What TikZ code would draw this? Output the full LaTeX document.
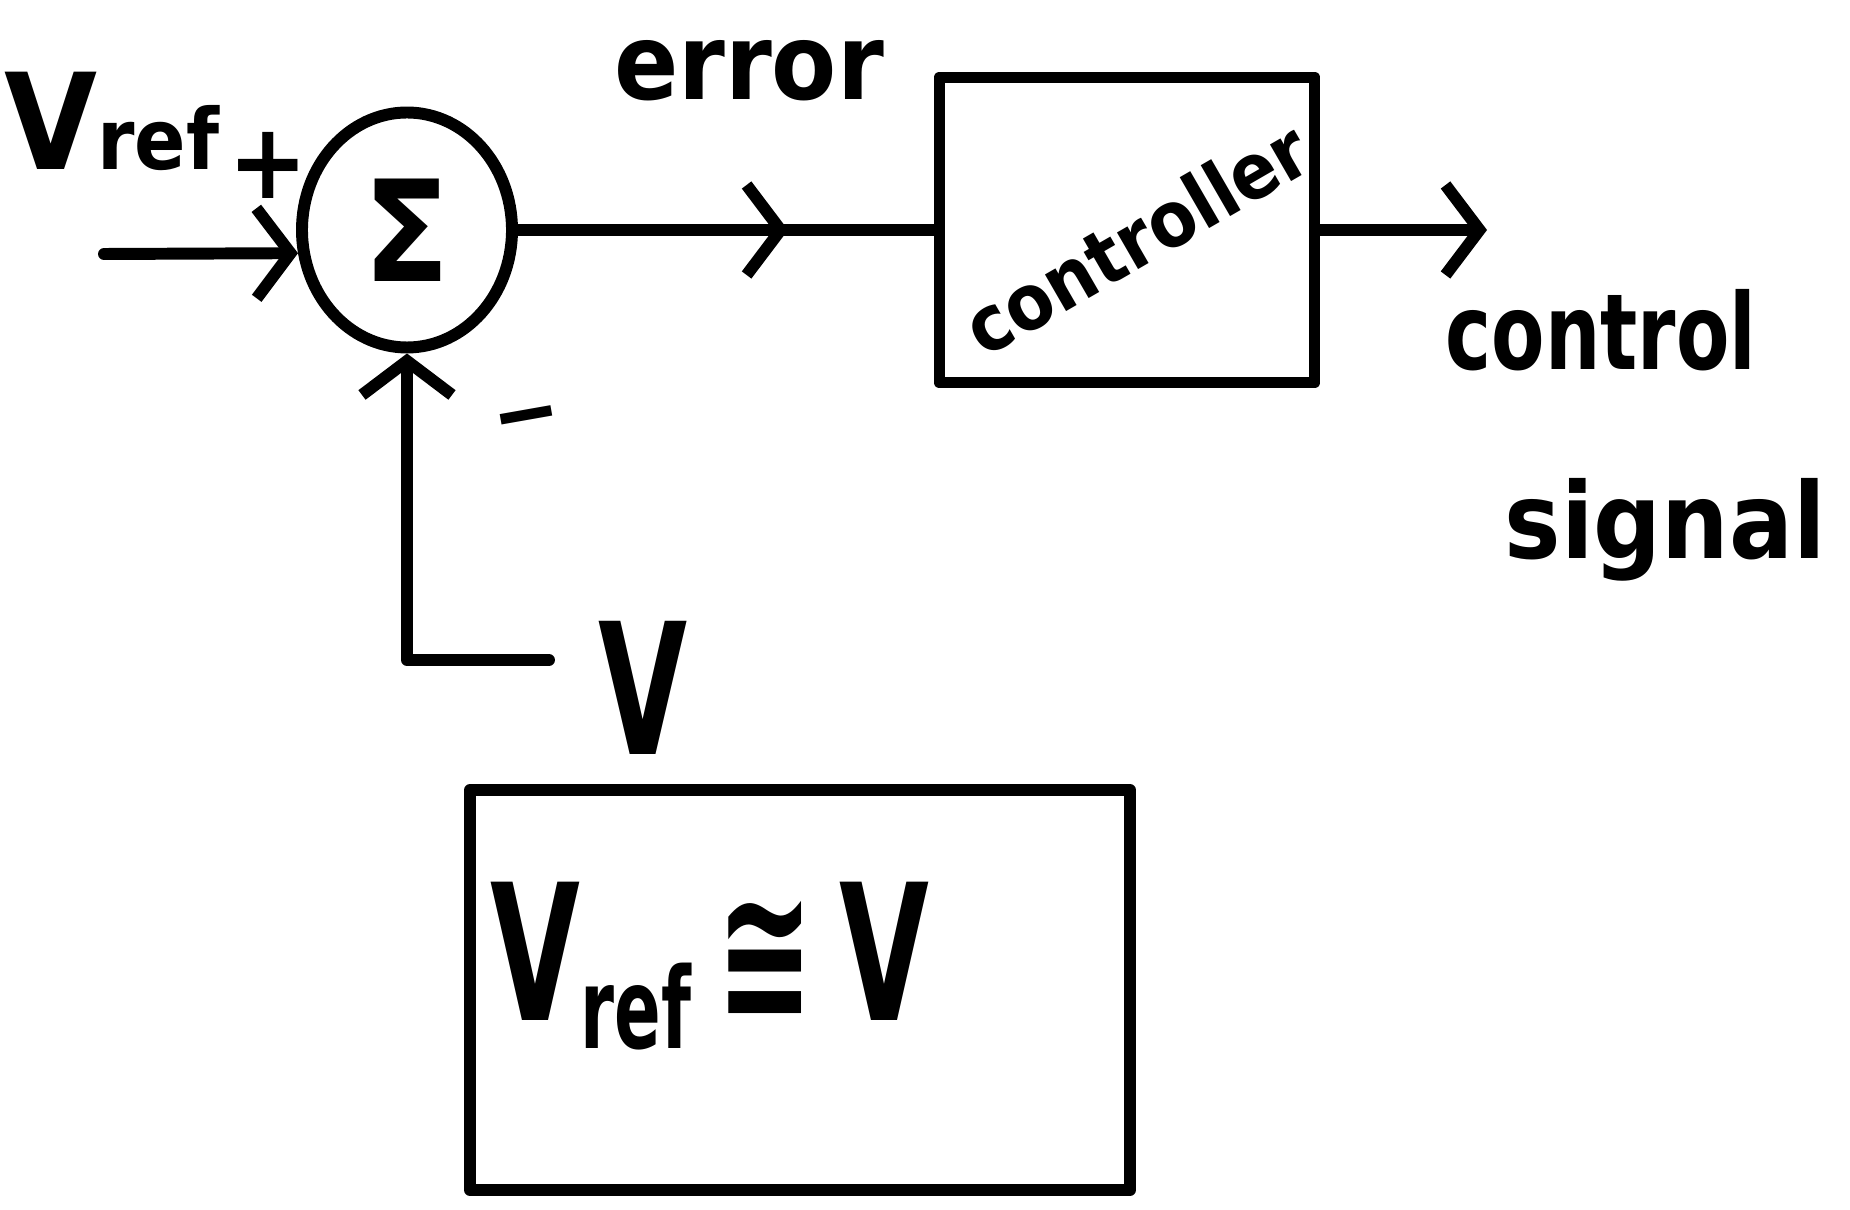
\documentclass[tikz,border=0pt]{standalone}
\usepackage{fontspec}
\setmainfont{DejaVu Sans Condensed}
\usetikzlibrary{arrows.meta, positioning, calc, shapes.geometric, decorations.markings}

\begin{document}
\begin{tikzpicture}[%
  pen/.style={line width=3.4pt, line cap=round, line join=round},%
  flow/.style={pen, -{Straight Barb[length=3.4mm, width=9mm]}},%
  midflow/.style={pen, decoration={markings, mark=at position 0.65 with {\arrow{Straight Barb[length=3.4mm, width=9mm]}}}, postaction={decorate}},%
  block/.style={pen, draw, rectangle, inner sep=0pt},%
  hand/.style={font=\bfseries\fontsize{#1}{#1}\selectfont, inner sep=0pt}%
]
  \useasboundingbox (0,0) rectangle (18.5,-12.1);
  % blocks
  \node[pen, draw, ellipse, minimum width=2.1cm, minimum height=2.35cm, inner sep=0pt, hand=40] (sum) at (4.07,-2.30) {Σ};
  \node[block, minimum width=3.75cm, minimum height=3.05cm] (ctrl) at (11.27,-2.30) {};
  \node[hand=22, rotate=30] (ctrltxt) at (11.36,-2.38) {controller};
  \node[block, minimum width=6.6cm, minimum height=4.0cm] (model) at (8.0,-9.9) {};
  \node[hand=54, anchor=base west] (modeltxt) at (4.90,-10.20)
    {\scalebox{0.68}[1]{V\raisebox{-.15em}{\fontsize{32}{32}\selectfont ref}\hspace{.2em}≅\hspace{.2em}V}};
  % labels
  \node[hand=38] (vreflbl) at (1.12,-1.21) {V\fontsize{24}{24}\selectfont ref};
  \node[hand=30] (plus) at (2.68,-1.65) {+};
  \node[hand=26, rotate=10] (minus) at (5.28,-4.27) {−};
  \node[hand=30] (errlbl) at (7.49,-0.71) {error};
  \node[hand=52] (vlbl) at (6.43,-6.88) {\scalebox{0.7}[1]{V}};
  \node[hand=30, anchor=west] (sig1) at (14.45,-3.30) {\scalebox{0.82}[1]{control}};
  \node[hand=30, anchor=west] (sig2) at (15.04,-5.30) {signal};
  % loose ends
  \coordinate (vin) at (1.04,-2.54);
  \coordinate (vout) at (14.87,-2.30);
  \coordinate (fb) at (5.49,-6.60);
  % connectors
  \draw[flow] (vin) -- (sum.192);
  \draw[midflow] (sum.east) -- (ctrl.west);
  \draw[flow] (ctrl.east) -- (vout);
  \draw[flow] (fb) -- (fb -| sum) -- (sum.south);
\end{tikzpicture}
\end{document}
